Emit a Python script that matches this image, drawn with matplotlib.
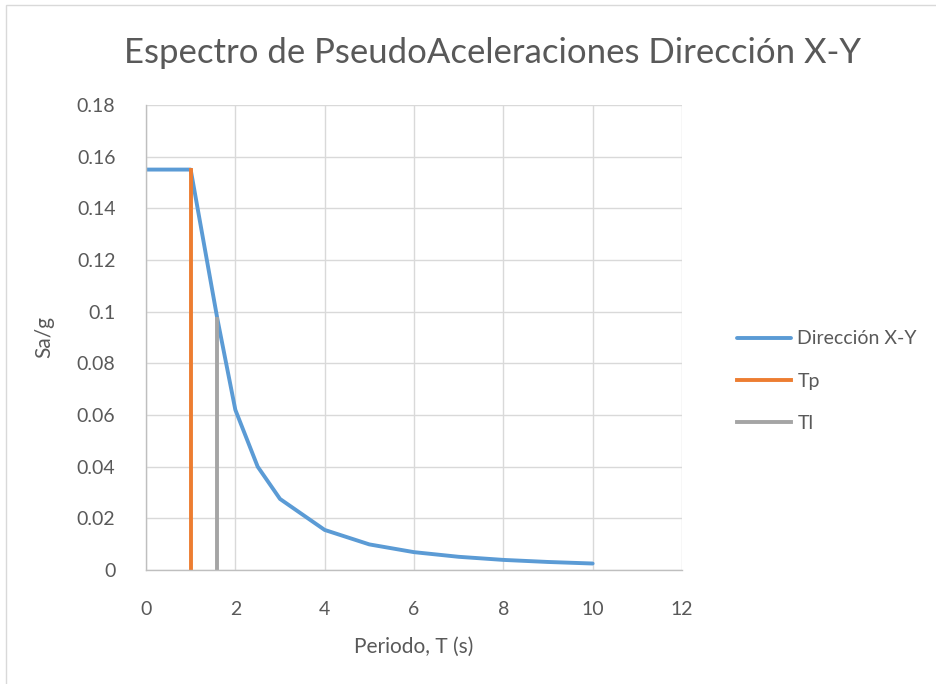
import matplotlib.pyplot as plt
from matplotlib.patches import Rectangle

# spectrum data
periodo = [0, 1, 1.6, 2, 2.5, 3, 4, 5, 6, 7, 8, 9, 10]
sa_g = [0.155, 0.155, 0.097, 0.062, 0.040, 0.0275, 0.0155, 0.0099, 0.0069, 0.0051, 0.0039, 0.0031, 0.0025]

tp_x = [1, 1]
tp_y = [0, 0.155]
tl_x = [1.6, 1.6]
tl_y = [0, 0.097]

x_ticks = [0, 2, 4, 6, 8, 10, 12]
y_ticks = [0, 0.02, 0.04, 0.06, 0.08, 0.1, 0.12, 0.14, 0.16, 0.18]
y_labels = ['0', '0.02', '0.04', '0.06', '0.08', '0.1', '0.12', '0.14', '0.16', '0.18']

plt.rcParams['font.family'] = ['Lato', 'DejaVu Sans']
text_color = '#595959'

fig = plt.figure(figsize=(9.36, 6.84), dpi=100)
fig.patches.append(Rectangle((0.006, -0.01), 1.1, 1.003, transform=fig.transFigure,
                             fill=False, edgecolor='#d9d9d9', linewidth=1))
ax = fig.add_axes([0.156, 0.1667, 0.5726, 0.6798])

ax.plot(periodo, sa_g, color='#5b9bd5', linewidth=2.8, label='Dirección X-Y', solid_capstyle='round')
ax.plot(tp_x, tp_y, color='#ed7d31', linewidth=2.8, label='Tp')
ax.plot(tl_x, tl_y, color='#a5a5a5', linewidth=2.8, label='Tl')

ax.set_xlim(0, 12)
ax.set_ylim(0, 0.18)
ax.set_xticks(x_ticks)
ax.set_yticks(y_ticks)
ax.set_yticklabels(y_labels)
ax.grid(True, color='#d9d9d9', linewidth=1)
ax.set_axisbelow(True)
for s in ['top', 'right']:
    ax.spines[s].set_visible(False)
for s in ['left', 'bottom']:
    ax.spines[s].set_color('#bfbfbf')
    ax.spines[s].set_linewidth(1)
ax.tick_params(axis='y', length=0, labelsize=14, colors=text_color, pad=22)
ax.tick_params(axis='x', length=0, labelsize=14, colors=text_color, pad=22)

ax.set_xlabel('Periodo, T (s)', fontsize=15, color=text_color, labelpad=14)
ax.set_ylabel('Sa/g', fontsize=15, color=text_color, labelpad=16)
fig.text(0.526, 0.922, 'Espectro de PseudoAceleraciones Dirección X-Y', ha='center', va='center',
         fontsize=25, color=text_color)

ax.legend(loc='center left', bbox_to_anchor=(1.07, 0.406), frameon=False, fontsize=14,
          labelcolor=text_color, handlelength=2.8, labelspacing=1.3, handletextpad=0.3)

plt.savefig('out.png', dpi=100)
